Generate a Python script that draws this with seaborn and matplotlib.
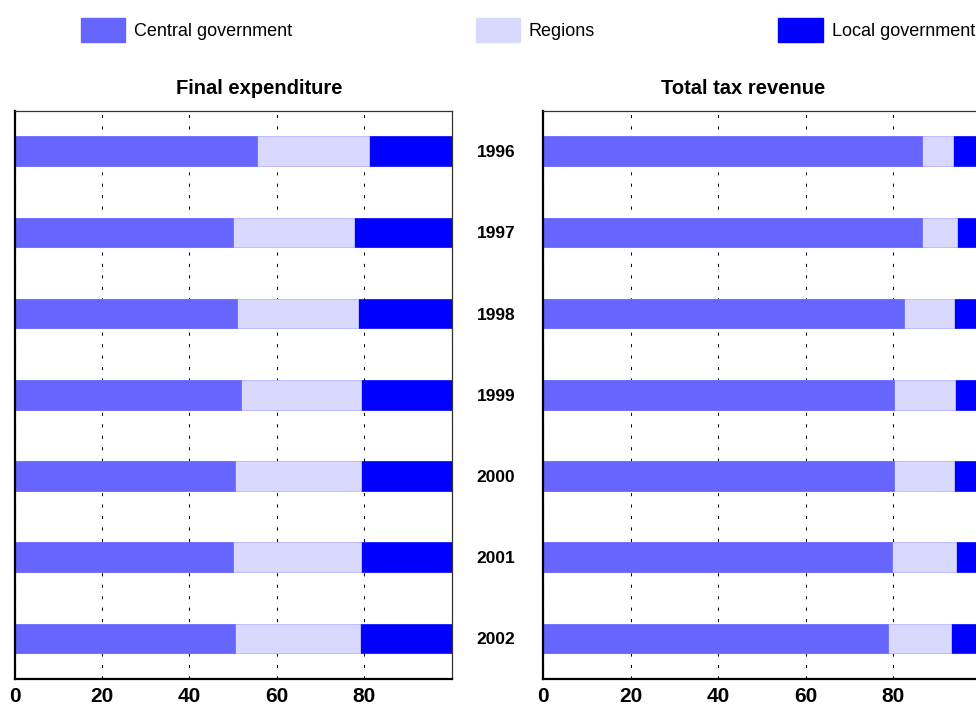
import matplotlib
matplotlib.use("Agg")
import matplotlib.pyplot as plt
from matplotlib.patches import Patch
import numpy as np
import seaborn as sns

# Shares (%) by level of government
years = ["1996", "1997", "1998", "1999", "2000", "2001", "2002"]
series = ["Central government", "Regions", "Local government"]
colors = ["#6666FF", "#D9D9FF", "#0000FF"]

exp_central = [55.5, 49.9, 50.8, 51.7, 50.4, 49.9, 50.5]
exp_regions = [25.6, 27.7, 27.7, 27.6, 28.9, 29.4, 28.5]
exp_local = [18.9, 22.4, 21.5, 20.7, 20.7, 20.7, 21.0]

tax_central = [86.6, 86.6, 82.6, 80.3, 80.2, 79.7, 78.8]
tax_regions = [7.0, 8.0, 11.3, 13.8, 13.7, 14.7, 14.5]
tax_local = [6.4, 5.4, 6.1, 5.9, 6.1, 5.6, 6.7]

panels = [
    ("Final expenditure", [exp_central, exp_regions, exp_local], 0.560),
    ("Total tax revenue", [tax_central, tax_regions, tax_local], 0.457),
]

sns.set_style("white")
plt.rcParams["font.family"] = ["Liberation Sans", "DejaVu Sans"]
for key in ["text.color", "axes.labelcolor", "xtick.color", "ytick.color"]:
    plt.rcParams[key] = "black"

W, H = 976, 706
fig = plt.figure(figsize=(W / 100, H / 100), dpi=100)
axw = 437.2 / W
axh = (679 - 110.7) / H
axb = (H - 679) / H
axes = [fig.add_axes([14.5 / W, axb, axw, axh]),
        fig.add_axes([543.3 / W, axb, axw, axh])]

for ax, (title, vals, tx) in zip(axes, panels):
    cum = np.cumsum(np.array(vals), axis=0)
    # draw the stacks from the total down so each segment shows its colour
    for i in range(len(series) - 1, -1, -1):
        sns.barplot(x=cum[i], y=years, orient="h", color=colors[i],
                    width=0.365, saturation=1, edgecolor=colors[i],
                    linewidth=0.5, ax=ax, zorder=2)
    ax.set_xlim(0, 100)
    ax.set_ylim(6.5, -0.5)
    ax.set_xticks([0, 20, 40, 60, 80])
    ax.set_xticklabels(["0", "20", "40", "60", "80"], fontsize=15,
                       fontweight="bold")
    ax.tick_params(axis="x", length=0, pad=5.5)
    ax.set_xlabel("")
    ax.set_ylabel("")
    ax.set_yticks([])
    ax.grid(True, axis="x", color="black", linewidth=0.75,
            linestyle=(0, (3, 8)))
    ax.set_axisbelow(True)
    for side in ["left", "bottom"]:
        ax.spines[side].set_linewidth(1.6)
        ax.spines[side].set_color("black")
    for side in ["top", "right"]:
        ax.spines[side].set_linewidth(0.9)
        ax.spines[side].set_color("#333333")
    ax.set_title(title, x=tx, fontsize=14.5, fontweight="bold", pad=12)

# year labels between the panels
axes[1].set_yticks(range(len(years)))
axes[1].set_yticklabels(years, fontsize=12.5, fontweight="bold", ha="center")
axes[1].tick_params(axis="y", length=0, pad=34)

handles = [Patch(facecolor=c, edgecolor=c) for c in colors]
fig.legend(handles, series, loc="center left", bbox_to_anchor=(81 / W, 1 - 30 / H),
           ncol=3, frameon=False, fontsize=13, borderpad=0, borderaxespad=0,
           handlelength=2.45, handleheight=1.65, handletextpad=0.5,
           columnspacing=10.15)

fig.savefig("out.png", dpi=100)
